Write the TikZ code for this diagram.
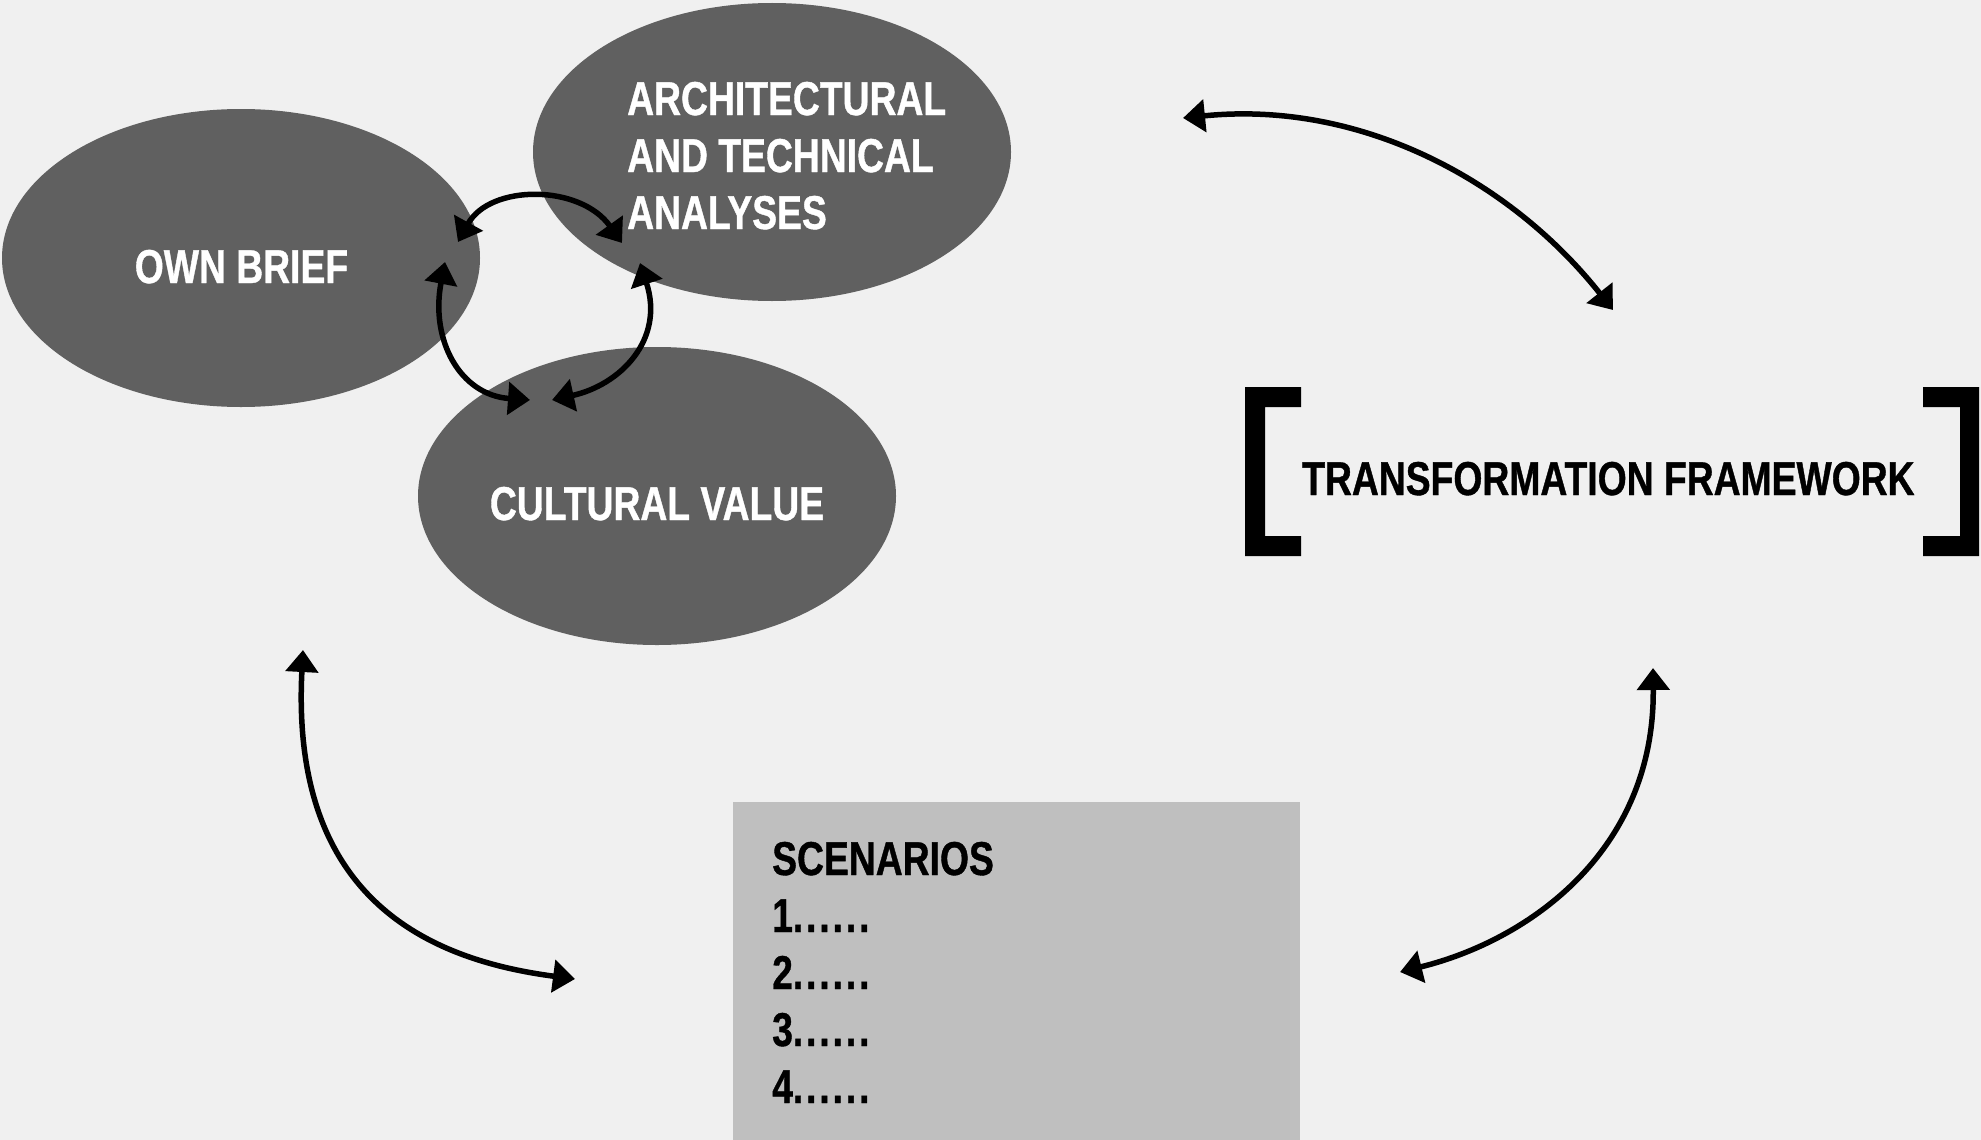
\documentclass[tikz,border=0pt]{standalone}
\usepackage{fontspec}
\setmainfont{Liberation Sans}[FakeStretch=0.785, BoldFeatures={FakeBold=0.8}]
\usetikzlibrary{arrows.meta,shapes.geometric}
\definecolor{bg}{HTML}{F0F0F0}
\definecolor{ell}{HTML}{606060}
\definecolor{scen}{HTML}{BFBFBF}
\newcommand\sixdots{{\addfontfeature{LetterSpace=6}......}}
\tikzset{
  blob/.style={ellipse, fill=ell, draw=none, inner sep=0pt, minimum width=478pt, minimum height=298pt},
  lbl/.style={inner sep=0pt, font=\fontsize{47.5}{57}\selectfont\bfseries},
  wlbl/.style={lbl, text=white},
  biarrow/.style={line width=5.5pt, {Triangle[length=22pt,width=32pt]}-{Triangle[length=22pt,width=32pt]}},
  bracket/.style={fill=black, draw=none}
}
\begin{document}
\begin{tikzpicture}[x=1pt,y=-1pt]
\fill[bg] (0,0) rectangle (1981,1140);
\useasboundingbox (0,0) rectangle (1981,1140);

% ellipses
\node[blob] (ob) at (241,258) {};
\node[blob] (ar) at (772,152) {};
\node[blob] (cv) at (657,496) {};

\node[wlbl, anchor=base] (obt) at (241.5,283) {OWN BRIEF};
\node[wlbl, anchor=base west] (art) at (627,115) {\begin{tabular}[t]{@{}l@{}}ARCHITECTURAL\\AND TECHNICAL\\ANALYSES\end{tabular}};
\node[wlbl, anchor=base] (cvt) at (657,520) {CULTURAL VALUE};

% scenarios box
\fill[scen] (733,802) rectangle (1300,1140);
\node[lbl, anchor=base west] (sc) at (772,875) {\begin{tabular}[t]{@{}l@{}}SCENARIOS\\1\sixdots\\2\sixdots\\3\sixdots\\4\sixdots\end{tabular}};

% transformation framework
\node[lbl, anchor=base west] (tf) at (1302,495) {TRANSFORMATION FRAMEWORK};
\fill[bracket] (1245,387) -- (1301,387) -- (1301,407) -- (1265,407) -- (1265,536) -- (1301,536) -- (1301,556) -- (1245,556) -- cycle;
\fill[bracket] (1979,387) -- (1923,387) -- (1923,407) -- (1960,407) -- (1960,536) -- (1923,536) -- (1923,556) -- (1979,556) -- cycle;

% arrow endpoints
\coordinate (a1s) at (1183,118);
\coordinate (a1e) at (1613,310);
\coordinate (a2s) at (303,650);
\coordinate (a2e) at (575,979);
\coordinate (a3s) at (1653,668);
\coordinate (a3e) at (1400,972);
\coordinate (s1s) at (458,242);
\coordinate (s1e) at (622,243);
\coordinate (s2s) at (445,262);
\coordinate (s2e) at (530,400);
\coordinate (s3s) at (640,263);
\coordinate (s3e) at (552,400);

\draw[biarrow] (a1s) .. controls (1360,100) and (1510,180) .. (a1e);
\draw[biarrow] (a2s) .. controls (290,900) and (430,960) .. (a2e);
\draw[biarrow] (a3s) .. controls (1655,850) and (1530,940) .. (a3e);
\draw[biarrow] (s1s) .. controls (490,184) and (580,184) .. (s1e);
\draw[biarrow] (s2s) .. controls (430,340) and (460,395) .. (s2e);
\draw[biarrow] (s3s) .. controls (665,340) and (620,385) .. (s3e);
\end{tikzpicture}
\end{document}
